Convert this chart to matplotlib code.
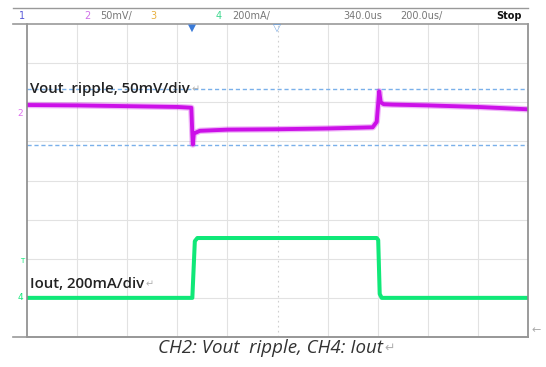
"""Scope capture: Vout ripple (CH2) and Iout load step (CH4)."""

import matplotlib

matplotlib.use("Agg")
import matplotlib.pyplot as plt

W, H = 546, 367

# time in divisions (0..10), level in divisions (0..8)
vout_t = [0, 1, 2, 3, 3.28, 3.30, 3.31, 3.33, 3.45, 4, 5, 6, 6.9, 6.98, 7.03, 7.06, 7.12, 7.3, 8, 9, 10]
vout_v = [5.93, 5.92, 5.90, 5.88, 5.86, 5.20, 4.92, 5.20, 5.27, 5.30, 5.31, 5.33, 5.36, 5.50, 6.28, 6.00, 5.95, 5.94, 5.92, 5.88, 5.82]

iout_t = [0, 3.30, 3.35, 3.40, 6.98, 7.01, 7.04, 7.08, 10]
iout_v = [1.0, 1.0, 2.45, 2.53, 2.53, 2.48, 1.10, 1.0, 1.0]

cursor_levels = [6.34, 4.91]

header_items = [
    (19, "1", "#5a5ad8"),
    (84, "2", "#d070e8"),
    (100, "50mV/", "#777777"),
    (150, "3", "#e8b040"),
    (216, "4", "#40d890"),
    (232, "200mA/", "#777777"),
    (343, "340.0us", "#777777"),
    (400, "200.0us/", "#777777"),
]

PURPLE = "#cc10e8"
GREEN = "#10e878"
FONTS = ["Open Sans", "DejaVu Sans"]


def px(x):
    return x / W


def py(y):
    return 1 - y / H


def mark_after(fig, txt, size):
    # pilcrow-style return mark right after a text, as in the source document
    r = fig.canvas.get_renderer()
    bb = txt.get_window_extent(renderer=r)
    fig.text(bb.x1 / W + 0.003, (bb.y0 + bb.y1) / 2 / H, "\u21b5", fontsize=size,
             color="#b0b0b0", va="center", ha="left")


fig = plt.figure(figsize=(W / 100, H / 100), dpi=100)
ax = fig.add_axes([px(27), py(337), px(528 - 27), (337 - 24) / H])
ax.set_xlim(0, 10)
ax.set_ylim(0, 8)
ax.set_xticks([])
ax.set_yticks([])
for s in ax.spines.values():
    s.set_color("#8a8a8a")
    s.set_linewidth(1.2)
ax.spines["top"].set_visible(False)

# graticule
for i in range(1, 10):
    if i == 5:
        ax.axvline(i, color="#cfcfcf", lw=0.8, ls=(0, (1.5, 3)))
    else:
        ax.axvline(i, color="#e2e2e2", lw=0.8)
for j in range(1, 8):
    ax.axhline(j, color="#e2e2e2", lw=0.8)

for lv in cursor_levels:
    ax.axhline(lv, color="#7ab0ea", lw=1.0, ls=(0, (3, 2)))

# traces
ax.plot(vout_t, vout_v, color=PURPLE, lw=4.6, alpha=0.3)
ax.plot(vout_t, vout_v, color=PURPLE, lw=2.8)
ax.plot(iout_t, iout_v, color=GREEN, lw=2.9)

t1 = ax.text(0.06, 6.34, "Vout  ripple, 50mV/div", fontsize=10.8, fontweight="semibold",
             family=FONTS, color="#222222", va="center", ha="left")
t2 = ax.text(0.06, 1.35, "Iout, 200mA/div", fontsize=10.8, fontweight="semibold",
             family=FONTS, color="#222222", va="center", ha="left")

# header bar
fig.add_artist(plt.Line2D([px(13), px(528)], [py(8), py(8)], color="#999999", lw=1))
fig.add_artist(plt.Line2D([px(13), px(528)], [py(24), py(24)], color="#999999", lw=1.2))
fig.add_artist(plt.Line2D([px(13), px(528)], [py(337), py(337)], color="#999999", lw=1.2))
for x, t, c in header_items:
    fig.text(px(x), py(16), t, fontsize=7, color=c, va="center", ha="left")
fig.text(px(522), py(16), "Stop", fontsize=7, fontweight="bold", color="#111111",
         va="center", ha="right")

# trigger markers
fig.text(px(192), py(28), "\u25bc", fontsize=7.5, color="#3a7ad8", ha="center", va="center")
fig.text(px(277), py(28), "\u25bd", fontsize=7.5, color="#6aa0e0", ha="center", va="center")

# channel ground markers
fig.text(px(20), py(113), "2", fontsize=6.5, color="#e070f0", ha="center", va="center")
fig.text(px(22), py(261), "T", fontsize=5, color=GREEN, ha="center", va="center")
fig.text(px(20), py(297), "4", fontsize=6.5, color=GREEN, ha="center", va="center")
fig.text(px(536), py(330), "\u2190", fontsize=8, color="#aaaaaa", ha="center", va="center")

cap = fig.text(px(270), py(348), "CH2: Vout  ripple, CH4: Iout", fontsize=13.5,
               style="italic", family=FONTS, color="#333333", ha="center", va="center")

mark_after(fig, t1, 7)
mark_after(fig, t2, 7)
mark_after(fig, cap, 9)

fig.savefig("out.png", dpi=100)
